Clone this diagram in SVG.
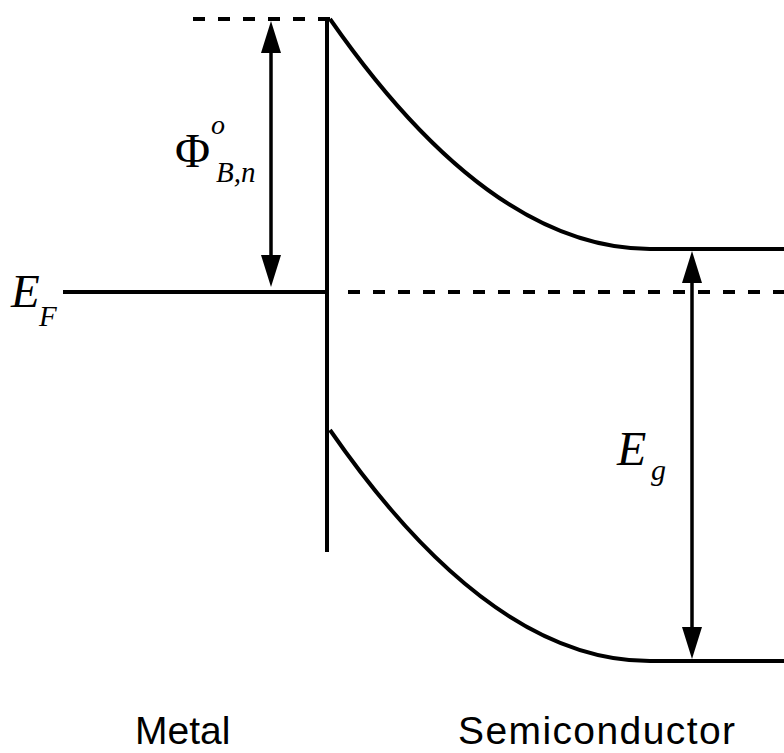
<svg xmlns="http://www.w3.org/2000/svg" width="784" height="753" viewBox="0 0 784 753">
<style>
.band{fill:none;stroke:#000;stroke-width:4}
.dash{fill:none;stroke:#000;stroke-width:4;stroke-dasharray:12 13}
.arr{fill:none;stroke:#000;stroke-width:3.5;marker-start:url(#ah);marker-end:url(#ah)}
.math{font-family:"Liberation Serif","Times New Roman",serif;font-style:italic;fill:#000}
.up{font-family:"Liberation Serif","Times New Roman",serif;fill:#000}
.lbl{font-family:"Liberation Sans",Arial,sans-serif;font-size:39px;fill:#000}
</style>
<defs>
<marker id="ah" viewBox="0 0 32 20" refX="24" refY="10" markerWidth="32" markerHeight="20" markerUnits="userSpaceOnUse" orient="auto-start-reverse">
<path d="M0,0 L32,10 L0,20 z" fill="#000"/>
</marker>
</defs>
<g id="bands">
<line class="dash" x1="193" y1="19" x2="332" y2="19"/>
<line class="band" x1="327" y1="19" x2="327" y2="552"/>
<line class="band" x1="63" y1="292" x2="327" y2="292"/>
<line class="dash" x1="348" y1="292" x2="784" y2="292"/>
<path class="band" d="M330,19 Q490,249 650,249 L784,249"/>
<path class="band" d="M330,430 Q490,661 650,661 L784,661"/>
</g>
<g id="connectors">
<line class="arr" x1="271" y1="29" x2="271" y2="279"/>
<line class="arr" x1="692" y1="259" x2="692" y2="651"/>
</g>
<g id="label-phi">
<text class="up" x="175" y="167" font-size="48">Φ</text>
<text class="math" x="211" y="134" font-size="28">o</text>
<text class="math" x="216" y="182" font-size="29">B,n</text>
</g>
<g id="label-EF">
<text class="math" x="11" y="307" font-size="47">E</text>
<text class="math" x="39" y="326" font-size="29">F</text>
</g>
<g id="label-Eg">
<text class="math" x="617" y="465" font-size="48">E</text>
<text class="math" x="651" y="480" font-size="30">g</text>
</g>
<g id="label-metal"><text class="lbl" x="135" y="744">Metal</text></g>
<g id="label-semi"><text class="lbl" x="458" y="744" textLength="277">Semiconductor</text></g>
</svg>
